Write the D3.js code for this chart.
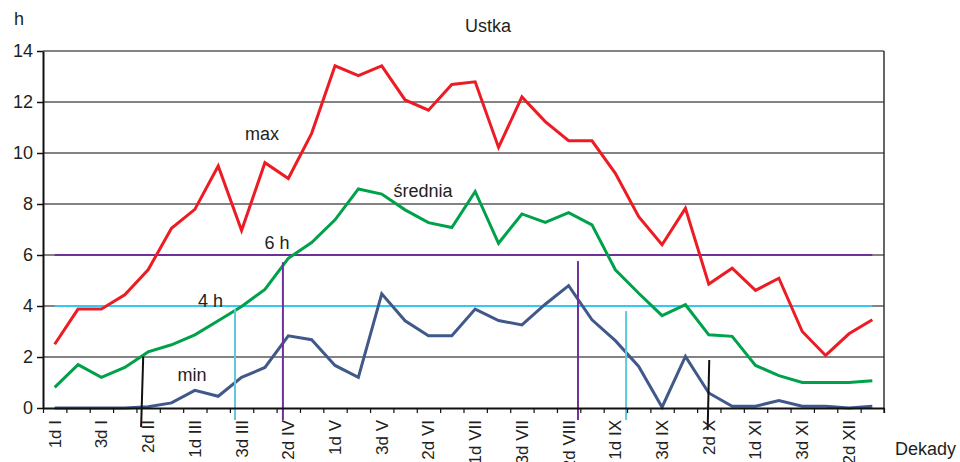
<!DOCTYPE html>
<meta charset="utf-8">
<title>Ustka</title>
<script src="https://d3js.org/d3.v7.min.js"></script>
<style>
  body { margin: 0; background: #fff; }
  text { font-family: "Liberation Sans", Arial, sans-serif; fill: #231f20; }
</style>
<body>
<div id="chart"></div>
<script>
// dekady (36) - labels, only every second one is printed
var months = ["I","II","III","IV","V","VI","VII","VIII","IX","X","XI","XII"];
var dekady = [];
months.forEach(function(m) { [1,2,3].forEach(function(d) { dekady.push(d + "d " + m); }); });

// hours of sunshine per dekada
var maxVals = [2.5, 3.88, 3.88, 4.44, 5.42, 7.05, 7.79, 9.49, 6.96, 9.62, 9.0, 10.77,
               13.42, 13.03, 13.42, 12.08, 11.68, 12.69, 12.79, 10.22, 12.2, 11.23, 10.48, 10.48,
               9.2, 7.5, 6.4, 7.83, 4.86, 5.48, 4.61, 5.09, 3.0, 2.06, 2.91, 3.46];
var sredniaVals = [0.81, 1.7, 1.2, 1.59, 2.2, 2.48, 2.87, 3.42, 3.98, 4.65, 5.87, 6.49,
                   7.38, 8.59, 8.39, 7.77, 7.27, 7.08, 8.49, 6.46, 7.61, 7.28, 7.66, 7.18,
                   5.42, 4.5, 3.62, 4.05, 2.87, 2.81, 1.67, 1.27, 1.0, 1.0, 1.0, 1.07];
var minVals = [0, 0, 0, 0, 0.05, 0.2, 0.69, 0.46, 1.2, 1.59, 2.83, 2.68,
               1.67, 1.2, 4.48, 3.42, 2.83, 2.83, 3.88, 3.43, 3.26, 4.07, 4.8, 3.46,
               2.64, 1.63, 0.03, 2.02, 0.59, 0.07, 0.07, 0.29, 0.07, 0.07, 0, 0.07];

var yTicks = [0, 2, 4, 6, 8, 10, 12, 14];

// threshold lines (h)
var thresholds = [
  {value: 6, label: "6 h", color: "#70309a", lx: 9.52, ly: 6.24},
  {value: 4, label: "4 h", color: "#33c9f5", lx: 6.67, ly: 3.96}
];

// vertical markers: position in dekada index (fractional), top and bottom value
var markers = [
  {x0: 3.79, x1: 3.70, top: 2.02, bottom: -0.75, color: "#111"},
  {x0: 7.72, x1: 7.72, top: 3.88, bottom: -0.47, color: "#5cc9dc"},
  {x0: 9.77, x1: 9.77, top: 5.72, bottom: -0.47, color: "#70309a"},
  {x0: 22.4, x1: 22.4, top: 5.76, bottom: -0.47, color: "#70309a"},
  {x0: 24.46, x1: 24.46, top: 3.80, bottom: -0.47, color: "#5cc9dc"},
  {x0: 28.02, x1: 27.95, top: 1.88, bottom: -0.86, color: "#111"}
];

var series = [
  {name: "max", values: maxVals, color: "#ed1c24", lx: 8.88, ly: 10.51},
  {name: "średnia", values: sredniaVals, color: "#00a14b", lx: 15.77, ly: 8.27},
  {name: "min", values: minVals, color: "#40598a", lx: 5.88, ly: 1.06}
];

var margin = {top: 51, right: 76, bottom: 54, left: 43},
    width = 960 - margin.left - margin.right,
    height = 462 - margin.top - margin.bottom;

var svg = d3.select("#chart")
  .append("svg")
    .attr("width", 960)
    .attr("height", 462);

var g = svg.append("g")
    .attr("transform", "translate(" + margin.left + "," + margin.top + ")");

var x = d3.scaleLinear().domain([0, dekady.length]).range([0, width]);
var y = d3.scaleLinear().domain([0, 14]).range([height, 0]);
function cx(i) { return x(i + 0.5); }

// gridlines
g.selectAll(".grid")
  .data(yTicks.filter(function(d) { return d > 0; }))
  .enter().append("line")
    .attr("x1", 0).attr("x2", width)
    .attr("y1", function(d) { return y(d); })
    .attr("y2", function(d) { return y(d); })
    .attr("stroke", "#5a5a5a")
    .attr("stroke-width", 1.5);

// right border
g.append("line")
  .attr("x1", width).attr("x2", width)
  .attr("y1", y(14)).attr("y2", y(0) + 5)
  .attr("stroke", "#333").attr("stroke-width", 1.5);

// threshold lines
g.selectAll(".thr")
  .data(thresholds)
  .enter().append("line")
    .attr("x1", cx(0)).attr("x2", cx(dekady.length - 1))
    .attr("y1", function(d) { return y(d.value); })
    .attr("y2", function(d) { return y(d.value); })
    .attr("stroke", function(d) { return d.color; })
    .attr("stroke-width", 2);

// series
var line = d3.line()
  .x(function(d, i) { return cx(i); })
  .y(function(d) { return y(d); });

g.selectAll(".series")
  .data(series)
  .enter().append("path")
    .attr("d", function(d) { return line(d.values); })
    .attr("fill", "none")
    .attr("stroke", function(d) { return d.color; })
    .attr("stroke-width", 3);

// vertical markers
g.selectAll(".marker")
  .data(markers)
  .enter().append("line")
    .attr("x1", function(d) { return cx(d.x0); })
    .attr("x2", function(d) { return cx(d.x1); })
    .attr("y1", function(d) { return y(d.top); })
    .attr("y2", function(d) { return y(d.bottom); })
    .attr("stroke", function(d) { return d.color; })
    .attr("stroke-width", 2);

// Y axis
var yAxis = g.append("g")
  .call(d3.axisLeft(y).tickValues(yTicks).tickSize(6).tickSizeOuter(0).tickPadding(4));
yAxis.select(".domain").attr("stroke", "#111").attr("stroke-width", 2);
yAxis.selectAll(".tick line").attr("stroke", "#111").attr("stroke-width", 1.5);
yAxis.selectAll("text").style("font-size", "18px").attr("fill", "#231f20");

// X axis (ticks between dekady)
var xAxis = g.append("g")
  .attr("transform", "translate(0," + height + ")")
  .call(d3.axisBottom(x).tickValues(d3.range(dekady.length + 1)).tickSize(5).tickSizeOuter(0).tickFormat(""));
xAxis.select(".domain").attr("stroke", "#111").attr("stroke-width", 2);
xAxis.selectAll(".tick line").attr("stroke", "#111").attr("stroke-width", 1.2);

g.selectAll(".xlab")
  .data(dekady.filter(function(d, i) { return i % 2 === 0; }))
  .enter().append("text")
    .attr("transform", function(d, i) { return "translate(" + cx(i * 2) + "," + (height + 12) + ") rotate(-90)"; })
    .attr("text-anchor", "end")
    .attr("dy", "0.35em")
    .style("font-size", "17px")
    .text(function(d) { return d; });

// series labels
g.selectAll(".slab")
  .data(series)
  .enter().append("text")
    .attr("x", function(d) { return cx(d.lx); })
    .attr("y", function(d) { return y(d.ly); })
    .attr("text-anchor", "middle")
    .style("font-size", "18px")
    .text(function(d) { return d.name; });

g.selectAll(".tlab")
  .data(thresholds)
  .enter().append("text")
    .attr("x", function(d) { return cx(d.lx); })
    .attr("y", function(d) { return y(d.ly); })
    .attr("text-anchor", "middle")
    .style("font-size", "18px")
    .text(function(d) { return d.label; });

// titles
svg.append("text").attr("x", 488).attr("y", 32).attr("text-anchor", "middle")
  .style("font-size", "18px").text("Ustka");
svg.append("text").attr("x", 14).attr("y", 25)
  .style("font-size", "18px").text("h");
svg.append("text").attr("x", 895).attr("y", 455)
  .style("font-size", "18px").text("Dekady");
</script>
</body>
